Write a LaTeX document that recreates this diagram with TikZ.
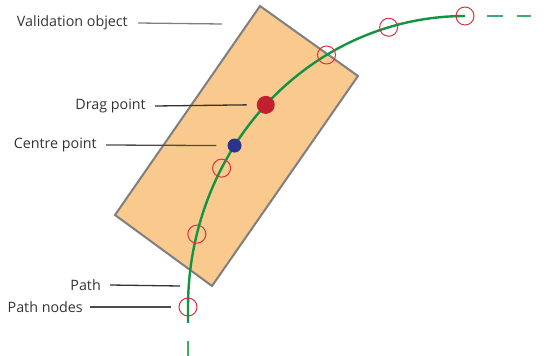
\documentclass[tikz,border=0pt]{standalone}
\usepackage{fontspec}
\setmainfont{Open Sans}
\usepackage{tikz}
\usetikzlibrary{positioning,calc}
\usepackage{xcolor}
\definecolor{objfill}{HTML}{F9C98E}
\definecolor{objline}{HTML}{7F7F7F}
\definecolor{pathgreen}{HTML}{139443}
\definecolor{nodered}{HTML}{D5343F}
\definecolor{dragred}{HTML}{C21F2F}
\definecolor{centreblue}{HTML}{28348F}
\definecolor{txtgray}{HTML}{333333}

\begin{document}
\begin{tikzpicture}[x=1pt, y=-1pt]
            \useasboundingbox (0,0) rectangle (544,356);
            % Validation object
            \draw[fill=objfill, draw=objline, line width=2pt] (260,6) -- (358,76) -- (212,286) -- (115,215) -- cycle;
            
            % Path (elliptical arc) and dashed ends
            \draw[pathgreen, line width=2.4pt] (188,323) -- plot[domain=180:270, samples=60, smooth] ({465+277*cos(\x)},{307+291*sin(\x)});
            \draw[pathgreen!80, line width=2.4pt] (188,341) -- (188,356);
            \draw[pathgreen!80, line width=2.4pt, dash pattern=on 16pt off 14pt] (487,16) -- (531,16);
            
            % Path nodes
            \foreach \a [count=\i] in {180,194.5,208.5,240,254,270}
                \node[circle, draw=nodered, line width=1pt, minimum size=18pt, inner sep=0pt] (pn\i) at ({465+277*cos(\a)},{307+291*sin(\a)}) {};
            
            % Drag and centre points
            \node[circle, fill=dragred, minimum size=18pt, inner sep=0pt] (drag) at ({465+277*cos(224)},{307+291*sin(224)}) {};
            \node[circle, fill=centreblue, minimum size=14pt, inner sep=0pt] (centre) at ({465+277*cos(213.7)},{307+291*sin(213.7)}) {};
            
            % Labels
            \begin{scope}[every node/.style={anchor=east, inner sep=0pt, text=txtgray, font=\fontsize{14.3}{16}\selectfont}]
            \node (lblvalid) at (128,23) {Validation object};
            \node (lbldrag) at (146,106) {Drag point};
            \node (lblcentre) at (97,145) {Centre point};
            \node (lblpath) at (101,285) {Path};
            \node (lblnodes) at (83,307) {Path nodes};
            \end{scope}
            \coordinate (validend) at (222,24);
            \coordinate (pathend) at (180,286);
            
            % Leader lines
            \draw[gray, line width=1.3pt] ([xshift=10pt]lblvalid.east) -- (validend);
            \draw[black!80, line width=1.3pt] ([xshift=9pt]lbldrag.east) -- ([xshift=-10pt]drag.west);
            \draw[black!70, line width=1.3pt] ([xshift=9pt]lblcentre.east) -- ([xshift=-11pt]centre.west);
            \draw[black!80, line width=1.3pt] ([xshift=9pt]lblpath.east) -- (pathend);
            \draw[black!70, line width=1.3pt] ([xshift=7pt]lblnodes.east) -- ([xshift=-8pt]pn1.west);
        \end{tikzpicture}
\end{document}
